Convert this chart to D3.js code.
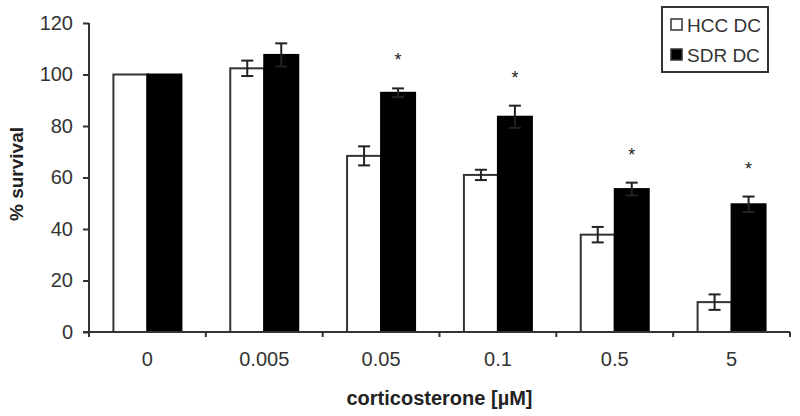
<!DOCTYPE html>
<html>
<head>
<meta charset="utf-8">
<script src="https://cdn.jsdelivr.net/npm/d3@7"></script>
<style>
  html, body { margin: 0; padding: 0; background: #fff; }
  svg { display: block; font-family: "Liberation Sans", Arial, sans-serif; }
</style>
</head>
<body>
<svg id="chart" width="800" height="416"></svg>
<script>
// ---- data ----
const categories = ["0", "0.005", "0.05", "0.1", "0.5", "5"];
const seriesNames = ["HCC DC", "SDR DC"];
const hccValues = [100, 102.4, 68.4, 61, 37.8, 11.6];
const hccErrors = [0, 3, 3.7, 2, 3, 3];
const sdrValues = [100, 107.6, 92.9, 83.6, 55.5, 49.6];
const sdrErrors = [0, 4.5, 1.7, 4.3, 2.5, 3];
const significant = [false, false, true, true, true, true];
const yTicks = [0, 20, 40, 60, 80, 100, 120];
const xTitle = "corticosterone [\u00b5M]";
const yTitle = "% survival";

// ---- layout ----
const svg = d3.select("#chart");
const mLeft = 89, mRight = 790, mTop = 23, mBottom = 332;
const axisColor = "#333";

const x0 = d3.scaleBand().domain(categories).range([mLeft, mRight])
  .paddingInner(0.418).paddingOuter(0.209);
const x1 = d3.scaleBand().domain(seriesNames).range([0, x0.bandwidth()]);
const y = d3.scaleLinear().domain([0, 120]).range([mBottom, mTop]);

const rows = categories.map((c, i) => ({
  cat: c, sig: significant[i],
  vals: [
    { s: seriesNames[0], v: hccValues[i], e: hccErrors[i] },
    { s: seriesNames[1], v: sdrValues[i], e: sdrErrors[i] }
  ]
}));
const fills = { "HCC DC": "#fff", "SDR DC": "#000" };

// ---- bars ----
const g = svg.append("g");
const groups = g.selectAll("g.cat").data(rows).join("g")
  .attr("transform", d => `translate(${x0(d.cat)},0)`);

groups.selectAll("rect").data(d => d.vals).join("rect")
  .attr("x", d => x1(d.s))
  .attr("y", d => y(d.v))
  .attr("width", x1.bandwidth())
  .attr("height", d => y(0) - y(d.v))
  .attr("fill", d => fills[d.s])
  .attr("stroke", d => d.s === "HCC DC" ? axisColor : "#000")
  .attr("stroke-width", 2);

// ---- error bars ----
const cap = 6;
const eb = groups.selectAll("g.err").data(d => d.vals.filter(v => v.e > 0)).join("g")
  .attr("stroke", "#222").attr("stroke-width", 2);
eb.append("line")
  .attr("x1", d => x1(d.s) + x1.bandwidth() / 2)
  .attr("x2", d => x1(d.s) + x1.bandwidth() / 2)
  .attr("y1", d => y(d.v - d.e)).attr("y2", d => y(d.v + d.e));
eb.append("line")
  .attr("x1", d => x1(d.s) + x1.bandwidth() / 2 - cap)
  .attr("x2", d => x1(d.s) + x1.bandwidth() / 2 + cap)
  .attr("y1", d => y(d.v + d.e)).attr("y2", d => y(d.v + d.e));
eb.append("line")
  .attr("x1", d => x1(d.s) + x1.bandwidth() / 2 - cap)
  .attr("x2", d => x1(d.s) + x1.bandwidth() / 2 + cap)
  .attr("y1", d => y(d.v - d.e)).attr("y2", d => y(d.v - d.e));

// ---- significance stars ----
groups.filter(d => d.sig).append("text")
  .attr("x", x1("SDR DC") + x1.bandwidth() / 2)
  .attr("y", d => y(d.vals[1].v + d.vals[1].e) - 32 + 10)
  .attr("text-anchor", "middle")
  .attr("font-size", 18)
  .attr("fill", "#222")
  .text("*");

// ---- y axis ----
const yAxis = svg.append("g").attr("transform", `translate(${mLeft},0)`)
  .call(d3.axisLeft(y).tickValues(yTicks).tickSize(6).tickSizeOuter(0).tickPadding(10));
yAxis.select(".domain").remove();
yAxis.selectAll(".tick line").attr("stroke", axisColor).attr("stroke-width", 2);
yAxis.selectAll(".tick text").attr("font-size", 20).attr("fill", "#333")
  .attr("font-family", "Liberation Sans, Arial, sans-serif");
svg.append("line").attr("x1", mLeft).attr("x2", mLeft)
  .attr("y1", y(120)).attr("y2", mBottom + 5)
  .attr("stroke", axisColor).attr("stroke-width", 2);

// ---- x axis ----
const xAxis = svg.append("g").attr("transform", `translate(0,${mBottom})`)
  .call(d3.axisBottom(x0).tickSize(0).tickPadding(20));
xAxis.select(".domain").remove();
xAxis.selectAll(".tick text").attr("font-size", 20).attr("fill", "#333")
  .attr("font-family", "Liberation Sans, Arial, sans-serif");
svg.append("line").attr("x1", mLeft - 6).attr("x2", mRight)
  .attr("y1", mBottom).attr("y2", mBottom)
  .attr("stroke", axisColor).attr("stroke-width", 2);
const boundaries = categories.map(c => x0(c) - x0.step() * x0.paddingOuter()).slice(1)
  .concat([mRight]);
svg.selectAll("line.xb").data(boundaries).join("line").attr("class", "xb")
  .attr("x1", d => d).attr("x2", d => d)
  .attr("y1", mBottom).attr("y2", mBottom + 5)
  .attr("stroke", axisColor).attr("stroke-width", 2);

// ---- titles ----
svg.append("text")
  .attr("x", (mLeft + mRight) / 2).attr("y", 405)
  .attr("text-anchor", "middle")
  .attr("font-size", 20).attr("font-weight", "bold").attr("fill", "#222")
  .text(xTitle);
svg.append("text")
  .attr("transform", `translate(23,174) rotate(-90)`)
  .attr("text-anchor", "middle")
  .attr("font-size", 19).attr("font-weight", "bold").attr("fill", "#222")
  .text(yTitle);

// ---- legend ----
const lg = svg.append("g");
lg.append("rect").attr("x", 662).attr("y", 7).attr("width", 106).attr("height", 65)
  .attr("fill", "#fff").attr("stroke", axisColor).attr("stroke-width", 2);
const items = lg.selectAll("g.item").data(seriesNames).join("g")
  .attr("transform", (d, i) => `translate(671,${25 + i * 30})`);
items.append("rect").attr("x", 0).attr("y", -6).attr("width", 11).attr("height", 11)
  .attr("fill", d => fills[d]).attr("stroke", axisColor).attr("stroke-width", 1.5);
items.append("text").attr("x", 16).attr("y", 7)
  .attr("font-size", 19).attr("fill", "#333").text(d => d);
</script>
</body>
</html>
